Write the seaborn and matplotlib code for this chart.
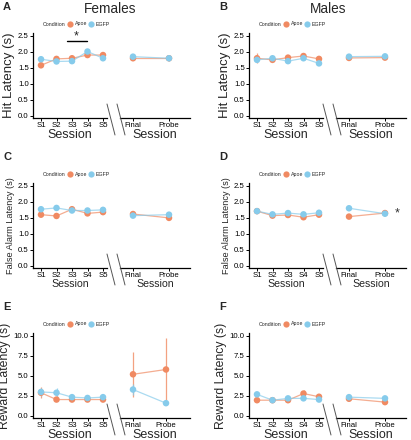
import numpy as np
import pandas as pd
import matplotlib
matplotlib.use("Agg")
import matplotlib.pyplot as plt
from matplotlib.lines import Line2D
import seaborn as sns

sns.set_theme(style="ticks")
plt.rcParams['font.family'] = ['Liberation Sans', 'DejaVu Sans']

W, H = 411, 440

sessions = ["S1", "S2", "S3", "S4", "S5"]
tests = ["Final", "Probe"]
conditions = ["Apoe", "EGFP"]
colors = {"Apoe": "#F08A62", "EGFP": "#86CBEB"}

# Panel A: Females hit latency
A_apoe = [1.58, 1.78, 1.80, 1.90, 1.90, 1.80, 1.80]
A_egfp = [1.77, 1.70, 1.71, 2.01, 1.80, 1.85, 1.80]
A_apoe_err = [0.04, 0.05, 0.04, 0.04, 0.04, 0.04, 0.03]
A_egfp_err = [0.04, 0.05, 0.06, 0.05, 0.05, 0.04, 0.08]
# Panel B: Males hit latency
B_apoe = [1.80, 1.75, 1.82, 1.87, 1.78, 1.81, 1.82]
B_egfp = [1.75, 1.80, 1.71, 1.80, 1.64, 1.85, 1.86]
B_apoe_err = [0.15, 0.05, 0.04, 0.04, 0.04, 0.05, 0.05]
B_egfp_err = [0.06, 0.04, 0.05, 0.04, 0.04, 0.05, 0.05]
# Panel C: Females false alarm latency
C_apoe = [1.60, 1.56, 1.77, 1.64, 1.68, 1.62, 1.50]
C_egfp = [1.77, 1.81, 1.73, 1.73, 1.75, 1.57, 1.60]
C_apoe_err = [0.04, 0.04, 0.05, 0.04, 0.04, 0.04, 0.04]
C_egfp_err = [0.04, 0.06, 0.05, 0.04, 0.05, 0.04, 0.04]
# Panel D: Males false alarm latency
D_apoe = [1.71, 1.57, 1.59, 1.52, 1.60, 1.54, 1.65]
D_egfp = [1.71, 1.61, 1.65, 1.61, 1.66, 1.80, 1.63]
D_apoe_err = [0.04, 0.04, 0.04, 0.04, 0.04, 0.04, 0.04]
D_egfp_err = [0.04, 0.05, 0.05, 0.05, 0.04, 0.04, 0.04]
# Panel E: Females reward latency
E_apoe = [2.90, 2.05, 2.05, 2.05, 2.05, 5.20, 5.80]
E_egfp = [3.00, 2.90, 2.35, 2.25, 2.35, 3.30, 1.60]
E_apoe_err = [0.70, 0.15, 0.10, 0.10, 0.10, 2.80, 3.90]
E_egfp_err = [0.50, 0.65, 0.20, 0.15, 0.20, 0.65, 0.15]
# Panel F: Males reward latency
F_apoe = [1.97, 1.97, 1.97, 2.80, 2.40, 2.15, 1.73]
F_egfp = [2.70, 1.97, 2.20, 2.20, 2.05, 2.35, 2.20]
F_apoe_err = [0.15, 0.10, 0.10, 0.50, 0.15, 0.15, 0.15]
F_egfp_err = [0.15, 0.10, 0.15, 0.15, 0.15, 0.20, 0.35]

ylabels = {"A": "Hit Latency (s)", "B": "Hit Latency (s)",
           "C": "False Alarm Latency (s)", "D": "False Alarm Latency (s)",
           "E": "Reward Latency (s)", "F": "Reward Latency (s)"}

fig = plt.figure(figsize=(W / 100, H / 100), dpi=100)


def rect(x0, y0, x1, y1):
    return [x0 / W, 1 - y1 / H, (x1 - x0) / W, (y1 - y0) / H]


def panel(letter, ox, oy, apoe, egfp, apoe_err, egfp_err, ymax, yticks,
          ylab_fs, sess_fs, rt_final=133, rt_probe=169):
    axL = fig.add_axes(rect(ox + 33, oy + 33, ox + 107, oy + 118))
    axR = fig.add_axes(rect(ox + 120, oy + 33, ox + 190, oy + 118))
    rows = []
    for c, vals, errs in (("Apoe", apoe, apoe_err), ("EGFP", egfp, egfp_err)):
        for i, s in enumerate(sessions):
            rows.append(dict(Condition=c, part="L", x=i, y=vals[i], e=errs[i]))
        for j, t in enumerate(tests):
            rows.append(dict(Condition=c, part="R", x=j, y=vals[5 + j], e=errs[5 + j]))
    df = pd.DataFrame(rows)
    for ax, part in ((axL, "L"), (axR, "R")):
        d = df[df.part == part]
        for c in conditions:
            dc = d[d.Condition == c]
            ax.errorbar(dc.x, dc.y, yerr=dc.e, fmt="none", ecolor=colors[c],
                        elinewidth=0.9, alpha=0.8, zorder=2)
        sns.lineplot(data=d, x="x", y="y", hue="Condition", palette=colors,
                     hue_order=conditions, ax=ax, legend=False, linewidth=0.9,
                     alpha=0.7, zorder=3)
        sns.scatterplot(data=d, x="x", y="y", hue="Condition", palette=colors,
                        hue_order=conditions, ax=ax, legend=False, s=22,
                        linewidth=0, zorder=4)
        ax.set_xlabel("")
        ax.set_ylabel("")
        ax.tick_params(axis="both", labelsize=5.6, length=2, width=0.7,
                       pad=1, colors="black")
        ax.set_ylim(-0.025 * ymax, ymax * 1.035)
        ax.set_facecolor("none")
    spacing = (103 - 41) / 4.0
    axL.set_xlim(-(41 - 33) / spacing, 4 + (107 - 103) / spacing)
    axL.set_xticks(range(5))
    axL.set_xticklabels(sessions)
    axL.set_yticks(yticks)
    axL.set_yticklabels([f"{v:.1f}" for v in yticks])
    sp = rt_probe - rt_final
    axR.set_xlim(-(rt_final - 120) / sp, 1 + (190 - rt_probe) / sp)
    axR.set_xticks([0, 1])
    axR.set_xticklabels(tests)
    axR.set_yticks([])
    for ax in (axL, axR):
        for s in ("top", "right"):
            ax.spines[s].set_visible(False)
        ax.spines["bottom"].set_linewidth(0.9)
        ax.spines["left"].set_linewidth(0.9)
        ax.spines["bottom"].set_color("black")
        ax.spines["left"].set_color("black")
    axR.spines["left"].set_visible(False)
    axL.set_ylabel(ylabels[letter], fontsize=ylab_fs, labelpad=2)
    axL.set_xlabel("Session", fontsize=sess_fs, labelpad=0)
    axR.set_xlabel("Session", fontsize=sess_fs, labelpad=0)
    # break marks
    for bx in (107, 117):
        fig.add_artist(Line2D([(ox + bx) / W, (ox + bx + 8) / W],
                              [1 - (oy + 104) / H, 1 - (oy + 135) / H],
                              color="#555555", linewidth=0.7))
    # panel letter
    fig.text((ox + 3) / W, 1 - (oy + 10) / H, letter, fontsize=8,
             fontweight="bold", ha="left", va="baseline")
    # legend
    handles = [Line2D([], [], linestyle="none", label="Condition")]
    for c in conditions:
        handles.append(Line2D([], [], marker="o", linestyle="none",
                              markersize=4.5, markerfacecolor=colors[c],
                              markeredgewidth=0, label=c))
    axL.legend(handles=handles, ncol=3, loc="center left",
               bbox_to_anchor=(3 / 74.0, 1 + (33 - 24) / 85.0),
               fontsize=3.8, frameon=False, handlelength=1.1,
               handletextpad=0.25, columnspacing=0.3, borderpad=0,
               borderaxespad=0)
    return axL, axR


axA = panel("A", 0, 0, A_apoe, A_egfp, A_apoe_err, A_egfp_err, 2.5,
            [0.0, 0.5, 1.0, 1.5, 2.0, 2.5], 9.5, 9)
axB = panel("B", 216, 0, B_apoe, B_egfp, B_apoe_err, B_egfp_err, 2.5,
            [0.0, 0.5, 1.0, 1.5, 2.0, 2.5], 9.5, 9)
axC = panel("C", 0, 150, C_apoe, C_egfp, C_apoe_err, C_egfp_err, 2.5,
            [0.0, 0.5, 1.0, 1.5, 2.0, 2.5], 6.6, 7.6)
axD = panel("D", 216, 150, D_apoe, D_egfp, D_apoe_err, D_egfp_err, 2.5,
            [0.0, 0.5, 1.0, 1.5, 2.0, 2.5], 6.6, 7.6)
axE = panel("E", 0, 300, E_apoe, E_egfp, E_apoe_err, E_egfp_err, 10.0,
            [0.0, 2.5, 5.0, 7.5, 10.0], 8.8, 9, rt_final=133, rt_probe=166)
axF = panel("F", 216, 300, F_apoe, F_egfp, F_apoe_err, F_egfp_err, 10.0,
            [0.0, 2.5, 5.0, 7.5, 10.0], 8.8, 9)

# titles
fig.text(110 / W, 1 - 13 / H, "Females", fontsize=9.8, ha="center", va="baseline")
fig.text(328 / W, 1 - 13 / H, "Males", fontsize=9.8, ha="center", va="baseline")

# significance annotations
aL = axA[0]
aL.plot([1.65, 2.95], [2.35, 2.35], color="black", linewidth=1, clip_on=False)
aL.text(2.3, 2.47, "*", ha="center", va="center", fontsize=9)
dR = axD[1]
dR.text(1.33, 1.63, "*", ha="center", va="center", fontsize=9, color="#333333")

fig.savefig("out.png", dpi=100)
